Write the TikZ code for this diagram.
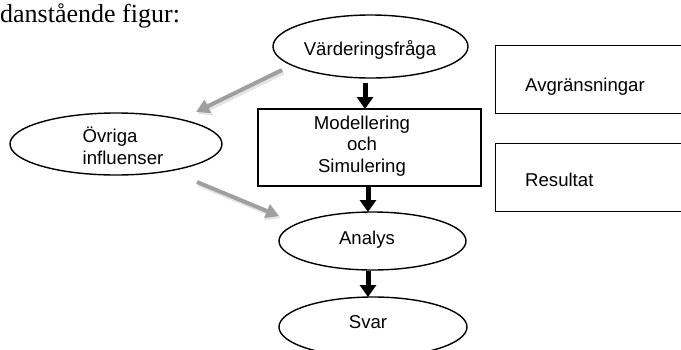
\documentclass[tikz,border=0pt]{standalone}
\usepackage{fontspec}
\setmainfont{Liberation Serif}
\setsansfont{Liberation Sans}
\usetikzlibrary{shapes.geometric,arrows.meta}
\tikzset{
  oval/.style={draw=black, line width=1.4pt, ellipse, inner sep=0pt},
  boxed/.style={draw=black, line width=1.4pt, rectangle, inner sep=0pt},
  lbl/.style={font=\sffamily\fontsize{18.6}{21.5}\selectfont, inner sep=0pt, align=center},
  lbll/.style={font=\sffamily\fontsize{18.6}{22}\selectfont, inner sep=0pt, align=left},
  blackarrow/.style={line width=5pt, -{Triangle[width=16pt,length=12pt]}},
  grayarrow/.style={line width=4pt, color=gray!75, -{Triangle[width=14pt,length=13pt]}},
  grayshadow/.style={line width=5pt, color=gray!35, opacity=0.6, -{Triangle[width=16pt,length=14pt]}}
}
\begin{document}
\begin{tikzpicture}[x=1pt,y=-1pt]
\useasboundingbox (0,0) rectangle (681,349);
\clip (0,0) rectangle (681,349);

% heading text
\node[anchor=base west, inner sep=0pt, font=\rmfamily\fontsize{26}{30}\selectfont] (head) at (0,22) {danstående figur:};

% ellipses
\node[oval, minimum width=195pt, minimum height=63pt] (v) at (370.5,46.5) {};
\node[lbl] (vt) at (370,50) {Värderingsfråga};

\node[oval, minimum width=212pt, minimum height=62pt] (o) at (116,144) {};
\node[lbll] (ot) at (123,146) {Övriga\\influenser};

\node[oval, minimum width=187pt, minimum height=58pt] (a) at (372.5,241) {};
\node[lbl] (at) at (367,240) {Analys};

\node[oval, minimum width=188pt, minimum height=60pt] (s) at (373,327) {};
\node[lbl] (st) at (368,322) {Svar};

% boxes
\node[boxed, minimum width=223pt, minimum height=77pt] (m) at (369.5,147.5) {};
\node[lbl] (mt) at (362,146) {Modellering\\och\\Simulering};

\node[boxed, anchor=north west, minimum width=210pt, minimum height=68pt] (b1) at (495,45) {};
\node[lbll, anchor=west] (b1t) at (525,87) {Avgränsningar};

\node[boxed, anchor=north west, minimum width=210pt, minimum height=68pt] (b2) at (495,143) {};
\node[lbll, anchor=west] (b2t) at (525,180) {Resultat};

% black arrows
\coordinate (v1) at (365,83);
\coordinate (v2) at (365,109);
\draw[blackarrow] (v1) -- (v2);
\coordinate (m1) at (368,187);
\coordinate (m2) at (368,212);
\draw[blackarrow] (m1) -- (m2);
\coordinate (a1) at (368,271);
\coordinate (a2) at (368,297);
\draw[blackarrow] (a1) -- (a2);

% gray arrows
\coordinate (g1s) at (282,70);
\coordinate (g1e) at (196,112);
\coordinate (g2s) at (197,182);
\coordinate (g2e) at (279,216);
\draw[grayshadow] ([shift={(1.5,2)}]g1s) -- ([shift={(1.5,2)}]g1e);
\draw[grayshadow] ([shift={(1.5,2)}]g2s) -- ([shift={(1.5,2)}]g2e);
\draw[grayarrow] (g1s) -- (g1e);
\draw[grayarrow] (g2s) -- (g2e);
\end{tikzpicture}
\end{document}
